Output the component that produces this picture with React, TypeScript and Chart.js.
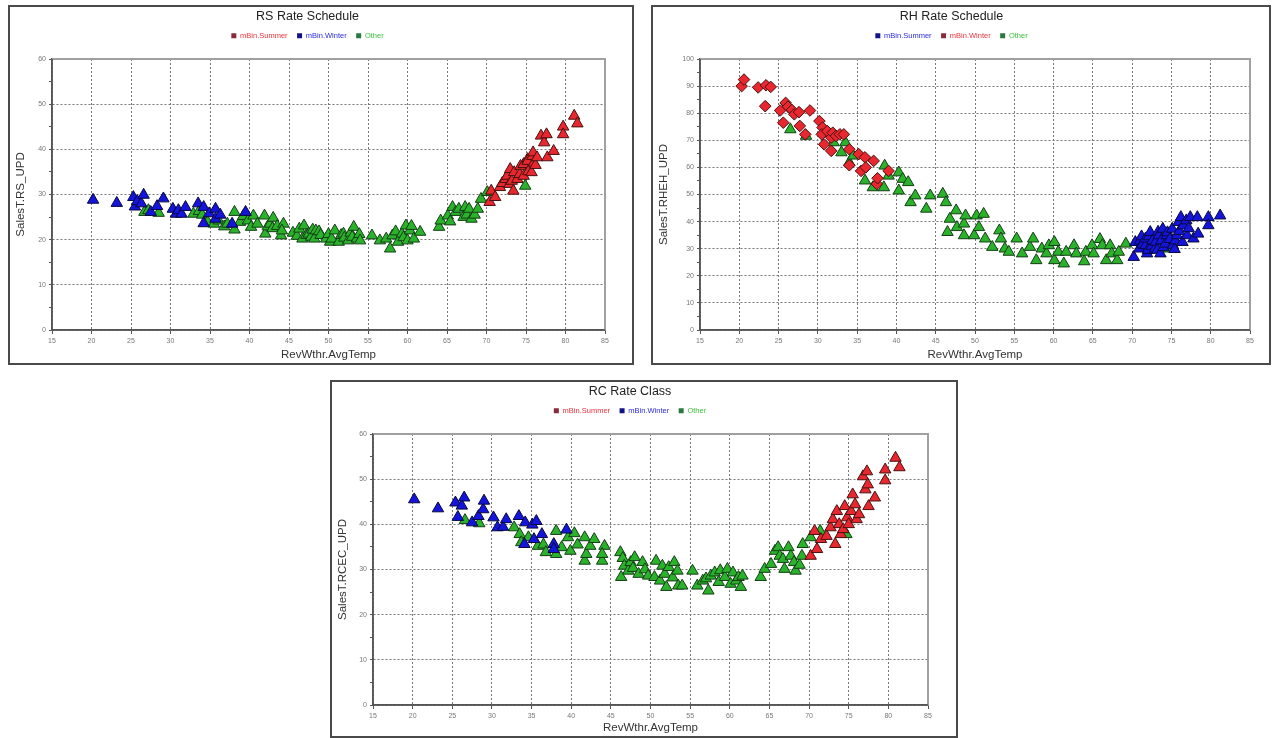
import React, { useEffect, useRef } from 'react';
import { Chart, registerables } from 'chart.js';

Chart.register(...registerables);

const FONT = '"Liberation Sans", Arial, sans-serif';

// ---------- shared axis ticks ----------
const xMin = 15;
const xMax = 85;
const xStep = 5;

// ---------- RS Rate Schedule ----------
const rsSummer: number[][] = [
  [70.4, 28.3], [70.6, 30.8], [71.1, 29.4], [71.7, 31.6], [72.0, 32.5], [72.4, 33.4], [72.6, 34.1], [72.9, 32.3],
  [73.0, 35.6], [73.2, 33.0], [73.4, 30.8], [73.5, 34.9], [73.9, 33.4], [74.2, 34.5], [74.3, 36.3], [74.7, 34.1],
  [74.7, 36.7], [75.2, 37.8], [75.2, 37.4], [75.3, 35.1], [75.7, 34.9], [75.8, 38.5], [75.9, 39.3], [76.0, 37.0],
  [76.2, 36.5], [76.4, 38.2], [76.9, 43.0], [77.3, 41.5], [77.6, 43.3], [77.7, 38.2], [78.5, 39.6], [79.7, 45.0],
  [79.7, 43.3], [81.1, 47.4], [81.5, 45.7],
];
const rsWinter: number[][] = [
  [20.2, 28.8], [23.2, 28.1], [25.3, 29.4], [25.5, 27.3], [25.8, 28.5], [26.3, 28.0], [26.6, 29.9], [27.5, 26.1],
  [28.3, 27.4], [29.1, 29.1], [30.3, 26.8], [30.7, 25.7], [31.0, 26.5], [31.4, 25.7], [31.9, 27.2], [33.5, 28.0],
  [34.2, 27.2], [34.2, 23.6], [34.9, 25.8], [35.7, 26.8], [35.7, 24.6], [36.3, 25.5], [37.8, 23.5], [39.5, 26.1],
];
const rsOther: number[][] = [
  [26.7, 26.1], [27.2, 26.5], [28.5, 25.9], [32.9, 25.7], [33.6, 26.3], [34.0, 25.5], [34.7, 23.9], [35.5, 23.5],
  [36.1, 24.2], [36.8, 22.9], [37.2, 23.5], [38.1, 26.1], [38.1, 22.2], [38.8, 23.9], [39.2, 25.2], [39.8, 24.2],
  [40.2, 22.8], [40.5, 25.3], [41.0, 23.5], [41.9, 25.3], [42.0, 21.3], [42.3, 22.9], [42.6, 23.5], [43.0, 24.8],
  [42.9, 22.5], [43.5, 23.0], [44.3, 23.5], [44.0, 20.9], [44.1, 22.0], [45.5, 21.5], [46.0, 20.8], [46.3, 22.4],
  [46.7, 20.2], [46.9, 23.1], [47.2, 21.0], [47.5, 21.3], [47.8, 20.6], [48.0, 22.2], [48.2, 20.2], [48.4, 22.0],
  [48.8, 21.8], [49.0, 21.0], [49.7, 20.2], [50.0, 21.2], [50.2, 19.5], [50.4, 20.2], [50.8, 22.0], [51.3, 19.5],
  [51.6, 21.0], [51.9, 21.3], [52.0, 20.4], [52.5, 19.8], [52.8, 21.5], [53.0, 20.6], [53.2, 22.8], [53.6, 20.2],
  [53.9, 21.2], [54.0, 19.8], [55.5, 20.9], [56.5, 19.8], [57.3, 20.2], [57.8, 18.0], [58.1, 20.9], [58.5, 21.8],
  [58.8, 19.5], [59.3, 21.3], [59.5, 20.5], [59.8, 23.1], [60.0, 19.8], [60.3, 22.0], [60.5, 23.0], [60.8, 20.2],
  [61.6, 21.7], [64.0, 22.8], [64.2, 24.2], [65.1, 25.3], [65.4, 24.0], [65.7, 27.2], [66.1, 26.1], [66.5, 26.8],
  [67.1, 25.0], [67.3, 27.2], [67.5, 25.5], [67.8, 26.8], [68.1, 24.6], [68.5, 25.5], [68.9, 26.8], [69.3, 29.0],
  [70.1, 30.5], [74.9, 31.9],
];

// ---------- RH Rate Schedule ----------
const rhWinter: number[][] = [
  [20.3, 90.0], [20.6, 92.4], [22.4, 89.5], [23.4, 90.3], [24.0, 89.7], [23.3, 82.6], [25.2, 81.0], [25.9, 83.8],
  [25.6, 76.5], [26.2, 82.4], [26.7, 81.2], [27.0, 79.6], [27.6, 80.4], [27.7, 75.3], [28.4, 72.2], [29.0, 81.0],
  [30.2, 77.1], [30.6, 74.7], [30.5, 72.2], [30.8, 68.5], [31.2, 73.4], [31.7, 71.0], [31.7, 66.1], [31.9, 72.8],
  [32.3, 71.6], [32.8, 72.2], [33.3, 72.2], [34.0, 66.7], [34.0, 60.8], [35.2, 64.9], [35.5, 58.7], [36.0, 63.7],
  [36.1, 60.0], [37.1, 62.4], [37.5, 53.9], [37.6, 56.0], [39.0, 58.7],
];
const rhSummer: number[][] = [
  [70.2, 26.9], [70.4, 32.4], [70.9, 30.0], [71.0, 33.0], [71.2, 34.5], [71.3, 31.5], [71.7, 31.2], [71.7, 33.7],
  [71.9, 28.2], [72.0, 29.5], [72.1, 34.5], [72.3, 36.1], [72.5, 31.0], [72.6, 33.0], [72.9, 30.0], [73.0, 32.5],
  [73.2, 29.5], [73.3, 36.2], [73.4, 34.9], [73.6, 28.2], [73.7, 33.0], [73.9, 37.3], [74.0, 30.5], [74.2, 31.8],
  [74.4, 34.9], [74.5, 36.0], [74.8, 33.5], [75.1, 37.3], [75.2, 31.2], [75.4, 29.8], [75.5, 33.0], [75.7, 34.9],
  [75.9, 39.8], [76.0, 36.5], [76.2, 41.6], [76.4, 32.4], [76.5, 38.5], [76.9, 40.4], [77.0, 34.9], [77.2, 37.5],
  [77.4, 41.6], [77.8, 33.7], [78.3, 41.6], [78.4, 35.5], [79.7, 41.6], [79.7, 38.6], [81.2, 42.2],
];
const rhOther: number[][] = [
  [26.5, 74.0], [28.5, 71.6], [32.0, 69.2], [33.5, 69.2], [33.0, 65.5], [34.0, 61.8], [34.5, 64.3], [36.0, 55.1],
  [37.0, 52.6], [38.4, 52.6], [38.5, 60.6], [39.0, 56.9], [40.3, 58.1], [40.3, 51.4], [40.8, 55.7], [41.5, 54.5],
  [41.8, 47.1], [42.4, 49.6], [43.8, 44.7], [44.3, 49.6], [45.9, 50.2], [46.3, 47.1], [46.5, 36.1], [46.8, 41.0],
  [47.6, 44.1], [47.7, 37.9], [48.6, 39.2], [48.8, 42.2], [48.6, 34.9], [49.9, 34.9], [50.2, 42.2], [50.5, 37.9],
  [51.1, 42.8], [51.3, 33.7], [52.2, 30.6], [53.1, 36.7], [53.3, 33.7], [53.8, 30.0], [54.3, 28.8], [55.3, 33.7],
  [56.0, 28.2], [57.0, 30.6], [57.4, 33.7], [57.8, 25.7], [58.5, 30.0], [59.1, 28.2], [59.4, 31.2], [60.1, 32.4],
  [60.1, 25.7], [60.6, 28.8], [61.3, 24.5], [61.6, 28.8], [62.6, 31.2], [62.9, 28.2], [63.9, 25.3], [64.1, 28.8],
  [64.9, 31.2], [65.1, 28.2], [65.9, 33.5], [66.2, 31.2], [66.7, 25.7], [67.2, 31.2], [67.4, 28.2], [68.1, 25.7],
  [68.3, 28.8], [69.2, 31.8], [74.7, 30.0],
];

// ---------- RC Rate Class ----------
const rcSummer: number[][] = [
  [70.2, 33.0], [70.7, 38.5], [71.0, 34.5], [71.5, 36.7], [72.2, 37.4], [72.7, 39.3], [73.0, 41.1], [73.3, 35.6],
  [73.5, 42.9], [73.8, 40.0], [74.0, 37.8], [74.3, 38.9], [74.5, 44.0], [74.8, 41.5], [75.0, 40.0], [75.3, 42.9],
  [75.5, 46.6], [75.8, 44.4], [76.0, 41.1], [76.3, 42.2], [76.8, 50.6], [77.1, 47.7], [77.3, 51.7], [77.4, 48.8],
  [77.5, 44.0], [78.3, 45.9], [79.6, 52.1], [79.6, 49.7], [80.9, 54.7], [81.4, 52.6],
];
const rcWinter: number[][] = [
  [20.2, 45.5], [23.2, 43.5], [25.4, 44.8], [25.7, 41.6], [26.2, 44.1], [26.5, 45.9], [27.5, 40.4], [28.3, 41.8],
  [28.9, 43.3], [29.0, 45.2], [30.2, 41.5], [30.7, 39.3], [31.4, 39.4], [31.8, 41.1], [33.4, 41.8], [34.1, 35.6],
  [34.2, 40.4], [35.1, 39.9], [35.3, 36.7], [35.6, 40.7], [36.3, 37.8], [37.8, 35.6], [37.8, 34.5], [39.4, 38.8],
];
const rcOther: number[][] = [
  [26.6, 40.9], [28.4, 40.2], [32.8, 39.3], [33.5, 37.8], [33.7, 36.0], [34.6, 37.1], [35.8, 35.2], [36.5, 35.5],
  [36.8, 33.8], [38.1, 38.5], [38.1, 33.4], [38.8, 34.9], [39.6, 37.1], [39.9, 34.1], [40.4, 38.0], [40.8, 35.5],
  [41.7, 37.1], [41.7, 31.9], [41.9, 33.4], [42.4, 35.2], [42.9, 36.7], [43.9, 31.9], [44.2, 35.2], [43.9, 33.4],
  [46.2, 33.8], [46.3, 28.3], [46.5, 32.5], [46.7, 30.8], [47.2, 29.7], [47.5, 31.6], [47.8, 30.3], [48.0, 32.7],
  [48.5, 29.0], [49.0, 31.6], [49.3, 30.0], [49.7, 28.6], [50.5, 28.3], [50.7, 31.9], [51.2, 27.5], [51.5, 30.8],
  [51.8, 29.0], [52.0, 26.1], [52.3, 30.5], [52.8, 28.2], [53.0, 31.6], [53.5, 26.4], [53.4, 29.7], [54.0, 26.4],
  [55.3, 29.7], [55.9, 26.4], [56.6, 27.5], [57.0, 28.0], [57.3, 25.3], [57.6, 28.6], [58.1, 29.3], [58.6, 27.2],
  [58.8, 29.8], [59.4, 28.3], [59.7, 30.1], [60.1, 26.8], [60.4, 29.3], [60.8, 27.5], [61.1, 28.3], [61.4, 26.1],
  [61.6, 28.6], [63.9, 28.3], [64.4, 30.1], [65.2, 31.2], [65.7, 34.1], [66.1, 34.9], [66.3, 33.0], [66.7, 32.3],
  [66.9, 30.1], [67.4, 34.9], [67.7, 33.0], [68.1, 31.6], [68.3, 29.7], [68.8, 31.0], [69.1, 33.0], [69.2, 35.6],
  [70.2, 37.1], [71.4, 38.5], [74.7, 37.8],
];

// ---------- colours ----------
const RED = '#e8272f';
const RED_EDGE = '#4a1010';
const BLUE = '#1414dc';
const BLUE_EDGE = '#08083e';
const GREEN = '#2bb22b';
const GREEN_EDGE = '#143e16';

const frame = {
  id: 'frame',
  beforeDatasetsDraw(chart: any) {
    const { ctx, chartArea: a } = chart;
    ctx.save();
    ctx.strokeStyle = '#a0a0a0';
    ctx.lineWidth = 2;
    ctx.beginPath();
    ctx.moveTo(a.left, a.top);
    ctx.lineTo(a.right, a.top);
    ctx.lineTo(a.right, a.bottom);
    ctx.stroke();
    ctx.strokeStyle = '#555';
    ctx.lineWidth = 1.5;
    ctx.beginPath();
    ctx.moveTo(a.left, a.top);
    ctx.lineTo(a.left, a.bottom);
    ctx.lineTo(a.right, a.bottom);
    ctx.stroke();
    ctx.restore();
  },
};

type Series = { label: string; pts: number[][]; fill: string; edge: string; shape: string; radius: number; legendBox: string; legendText: string };

type PanelSpec = {
  left: number; top: number; width: number; height: number;
  title: string; yTitle: string; yMax: number;
  yWidth: number; xHeight: number; padRight: number;
  series: Series[];
};

const toXY = (pts: number[][]) => pts.map((p) => ({ x: p[0], y: p[1] }));

function buildConfig(s: PanelSpec): any {
  return {
    type: 'scatter',
    data: {
      datasets: s.series.map((d) => ({
        label: d.label,
        data: toXY(d.pts),
        pointStyle: d.shape,
        pointRadius: d.radius,
        pointHoverRadius: d.radius,
        backgroundColor: d.fill,
        borderColor: d.edge,
        borderWidth: 1,
      })),
    },
    plugins: [frame],
    options: {
      animation: false,
      responsive: false,
      devicePixelRatio: 1,
      layout: { padding: { left: 0, right: s.padRight, top: 0, bottom: 0 } },
      plugins: {
        title: {
          display: true,
          text: s.title,
          color: '#222',
          font: { family: FONT, size: 12.5, weight: 'normal', lineHeight: 1 },
          padding: { top: 3, bottom: 0 },
        },
        subtitle: {
          display: true,
          text: '',
          weight: 500,
          font: { family: FONT, size: 9.5, lineHeight: 1 },
          padding: 0,
        },
        legend: {
          display: true,
          position: 'top',
          labels: {
            boxWidth: 5,
            boxHeight: 5,
            padding: 9.5,
            font: { family: FONT, size: 7.5 },
            generateLabels: (chart: any) =>
              chart.data.datasets.map((ds: any, i: number) => ({
                text: ds.label,
                fillStyle: s.series[i].legendBox,
                strokeStyle: s.series[i].legendBox,
                lineWidth: 0,
                fontColor: s.series[i].legendText,
                hidden: false,
                datasetIndex: i,
              })),
          },
        },
        tooltip: { enabled: false },
      },
      scales: {
        x: {
          type: 'linear',
          min: xMin,
          max: xMax,
          afterFit: (sc: any) => { sc.height = s.xHeight; },
          ticks: {
            stepSize: xStep,
            autoSkip: false,
            maxRotation: 0,
            padding: 3,
            color: '#777',
            font: { family: FONT, size: 7 },
          },
          grid: { color: '#777', lineWidth: 1, tickLength: 4, tickColor: '#555' },
          border: { display: true, color: '#555', width: 1.5, dash: [2, 2] },
          title: {
            display: true,
            text: 'RevWthr.AvgTemp',
            color: '#333',
            font: { family: FONT, size: 11.5 },
            padding: { top: 0, bottom: 1 },
          },
        },
        y: {
          type: 'linear',
          min: 0,
          max: s.yMax,
          afterFit: (sc: any) => { sc.width = s.yWidth; },
          ticks: {
            stepSize: 5,
            autoSkip: false,
            padding: 3,
            color: '#777',
            font: { family: FONT, size: 7 },
            callback: (v: any) => (Number(v) % 10 === 0 ? String(v) : ''),
          },
          grid: {
            color: (c: any) => (c.tick && c.tick.value % 10 === 0 ? '#777' : 'rgba(0,0,0,0)'),
            lineWidth: 1,
            tickLength: 3,
            tickColor: '#555',
          },
          border: { display: true, color: '#555', width: 1.5, dash: [2, 2] },
          title: {
            display: true,
            text: s.yTitle,
            color: '#333',
            font: { family: FONT, size: 11.5 },
            padding: { top: 4, bottom: 0 },
          },
        },
      },
    },
  };
}

function Panel({ spec }: { spec: PanelSpec }) {
  const ref = useRef<HTMLCanvasElement | null>(null);
  useEffect(() => {
    if (!ref.current) return;
    const chart = new Chart(ref.current, buildConfig(spec));
    return () => chart.destroy();
  }, [spec]);
  const cw = spec.width - 4;
  const ch = spec.height - 4;
  return (
    <div
      style={{
        position: 'absolute',
        left: spec.left,
        top: spec.top,
        width: spec.width,
        height: spec.height,
        boxSizing: 'border-box',
        border: '2px solid #4a4a4a',
        background: '#fff',
      }}
    >
      <canvas ref={ref} width={cw} height={ch} style={{ display: 'block', width: cw, height: ch }} />
    </div>
  );
}

const summerStd = { label: 'mBin.Summer', fill: RED, edge: RED_EDGE, shape: 'triangle', radius: 6.6, legendBox: '#8a2a3c', legendText: '#e8343c' };
const winterStd = { label: 'mBin.Winter', fill: BLUE, edge: BLUE_EDGE, shape: 'triangle', radius: 6.6, legendBox: '#12128a', legendText: '#2a2ae0' };
const otherStd = { label: 'Other', fill: GREEN, edge: GREEN_EDGE, shape: 'triangle', radius: 6.6, legendBox: '#2a7a40', legendText: '#3cc03c' };

const RS: PanelSpec = {
  left: 8, top: 5, width: 626, height: 360,
  title: 'RS Rate Schedule', yTitle: 'SalesT.RS_UPD', yMax: 60,
  yWidth: 42, xHeight: 33, padRight: 27,
  series: [
    { ...summerStd, pts: rsSummer },
    { ...winterStd, pts: rsWinter },
    { ...otherStd, pts: rsOther },
  ],
};

const RH: PanelSpec = {
  left: 651, top: 5, width: 620, height: 360,
  title: 'RH Rate Schedule', yTitle: 'SalesT.RHEH_UPD', yMax: 100,
  yWidth: 47, xHeight: 33, padRight: 19,
  series: [
    { label: 'mBin.Summer', pts: rhSummer, fill: BLUE, edge: BLUE_EDGE, shape: 'triangle', radius: 6.6, legendBox: '#12128a', legendText: '#2a2ae0' },
    { label: 'mBin.Winter', pts: rhWinter, fill: RED, edge: RED_EDGE, shape: 'rectRot', radius: 5.8, legendBox: '#8a2a3c', legendText: '#e8343c' },
    { ...otherStd, pts: rhOther },
  ],
};

const RC: PanelSpec = {
  left: 330, top: 380, width: 628, height: 358,
  title: 'RC Rate Class', yTitle: 'SalesT.RCEC_UPD', yMax: 60,
  yWidth: 41, xHeight: 31, padRight: 28,
  series: [
    { ...summerStd, pts: rcSummer },
    { ...winterStd, pts: rcWinter },
    { ...otherStd, pts: rcOther },
  ],
};

export default function App() {
  return (
    <div style={{ position: 'absolute', left: 0, top: 0, width: 1282, height: 738, background: '#fff' }}>
      <Panel spec={RS} />
      <Panel spec={RH} />
      <Panel spec={RC} />
    </div>
  );
}
